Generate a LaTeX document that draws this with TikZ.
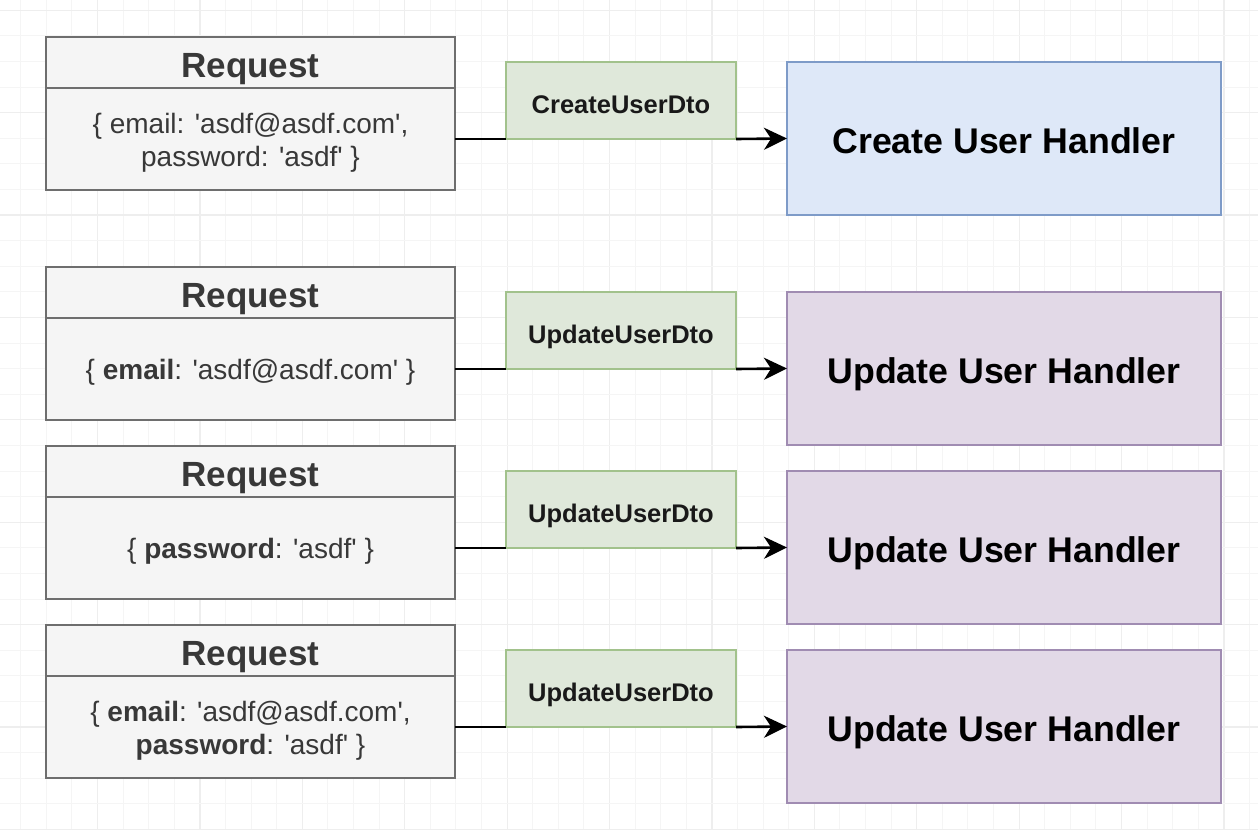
\documentclass[tikz,border=0pt]{standalone}
\usepackage{fontspec}
\newfontfamily\hv{Liberation Sans}
\usetikzlibrary{arrows.meta}
\definecolor{gridminor}{HTML}{F5F5F5}
\definecolor{gridmajor}{HTML}{EEEEEE}
\definecolor{reqfill}{HTML}{F5F5F5}
\definecolor{reqline}{HTML}{6E6E6E}
\definecolor{reqtext}{HTML}{383838}
\definecolor{dtofill}{HTML}{DFE8DA}
\definecolor{dtoline}{HTML}{A2C28C}
\definecolor{bluefill}{HTML}{DEE8F8}
\definecolor{blueline}{HTML}{7E9BC8}
\definecolor{purpfill}{HTML}{E2D9E7}
\definecolor{purpline}{HTML}{A08CB2}
\tikzset{
  reqbase/.style={draw=reqline, fill=reqfill, line width=2.5pt, minimum width=409pt,
    inner sep=0pt, outer sep=0pt, anchor=north west, text=reqtext},
  reqhead/.style={reqbase, minimum height=51pt, text height=29pt, text depth=0pt,
    font=\hv\fontsize{35}{40}\selectfont\bfseries},
  reqbody/.style={reqbase, minimum height=102pt, align=center, text height=20pt, text depth=0pt,
    font=\hv\fontsize{28}{33.3}\selectfont},
  reqbodytwo/.style={reqbody, text height=55.4pt, text depth=0pt},
  dtobox/.style={draw=dtoline, fill=dtofill, line width=2.3pt, minimum width=230pt, minimum height=77pt,
    inner sep=0pt, outer sep=0pt, anchor=north west, text=black!90, text height=25.6pt, text depth=0pt,
    font=\hv\fontsize{25.5}{30}\selectfont\bfseries},
  handler/.style={line width=2.3pt, minimum width=434pt, minimum height=153pt,
    inner sep=0pt, outer sep=0pt, anchor=north west, text=black, text height=30pt, text depth=0pt,
    font=\hv\fontsize{35.7}{42}\selectfont\bfseries},
  createh/.style={handler, draw=blueline, fill=bluefill},
  updateh/.style={handler, draw=purpline, fill=purpfill},
  link/.style={line width=2.6pt, draw=black},
  arr/.style={link, -{Stealth[length=23pt, width=22pt, inset=7pt]}}
}
\begin{document}
\begin{tikzpicture}[x=1pt, y=-1pt]
\useasboundingbox (0,0) rectangle (1258,830);
\fill[white] (0,0) rectangle (1258,830);
% grid
\foreach \k in {0,...,48}{
  \pgfmathsetmacro{\gx}{20.7+25.6*\k}
  \pgfmathtruncatemacro{\m}{mod(\k,4)}
  \ifnum\m=3 \draw[gridmajor, line width=1.2pt] (\gx,0) -- (\gx,830);
  \else \draw[gridminor, line width=1pt] (\gx,0) -- (\gx,830); \fi
}
\foreach \k in {0,...,32}{
  \pgfmathsetmacro{\gy}{10.2+25.6*\k}
  \pgfmathtruncatemacro{\m}{mod(\k,4)}
  \ifnum\m=0 \draw[gridmajor, line width=1.2pt] (0,\gy) -- (1258,\gy);
  \else \draw[gridminor, line width=1pt] (0,\gy) -- (1258,\gy); \fi
}

% row 1
\node[reqhead] (r1h) at (46,37) {Request};
\node[reqbodytwo] (r1b) at (46,88) {\{ email: 'asdf@asdf.com',\\ password: 'asdf' \}};
\node[dtobox] (d1) at (506,62) {CreateUserDto};
\node[createh] (h1) at (787,62) {Create User Handler};

% row 2
\node[reqhead] (r2h) at (46,267) {Request};
\node[reqbody] (r2b) at (46,318) {\{ \textbf{email}: 'asdf@asdf.com' \}};
\node[dtobox] (d2) at (506,292) {UpdateUserDto};
\node[updateh] (h2) at (787,292) {Update User Handler};

% row 3
\node[reqhead] (r3h) at (46,446) {Request};
\node[reqbody] (r3b) at (46,497) {\{ \textbf{password}: 'asdf' \}};
\node[dtobox] (d3) at (506,471) {UpdateUserDto};
\node[updateh] (h3) at (787,471) {Update User Handler};

% row 4
\node[reqhead] (r4h) at (46,625) {Request};
\node[reqbodytwo] (r4b) at (46,676) {\{ \textbf{email}: 'asdf@asdf.com',\\ \textbf{password}: 'asdf' \}};
\node[dtobox] (d4) at (506,650) {UpdateUserDto};
\node[updateh] (h4) at (787,650) {Update User Handler};

% connectors
\foreach \i in {1,2,3,4}{
  \draw[link] (r\i b.east) -- (d\i.south west);
  \draw[arr] (d\i.south east) -- (h\i.west);
}
\end{tikzpicture}
\end{document}
